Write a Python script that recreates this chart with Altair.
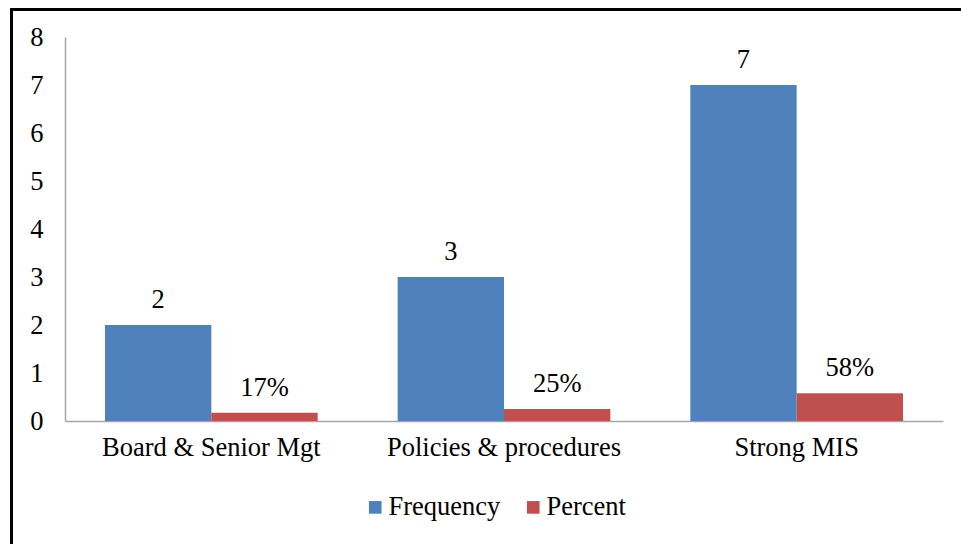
import altair as alt
import pandas as pd

categories = ["Board & Senior Mgt", "Policies & procedures", "Strong MIS"]
frequency = [2, 3, 7]
percent = [0.17, 0.25, 0.58]
freq_labels = ["2", "3", "7"]
pct_labels = ["17%", "25%", "58%"]
series = ["Frequency", "Percent"]
colors = ["#4F81BD", "#C0504D"]

rows = []
for c, f, fl in zip(categories, frequency, freq_labels):
    rows.append({"category": c, "series": "Frequency", "value": f, "label": fl})
for c, p, pl in zip(categories, percent, pct_labels):
    rows.append({"category": c, "series": "Percent", "value": p, "label": pl})
df = pd.DataFrame(rows)

FONT = "Liberation Serif"
FS = 26.5
W, H = 878, 384
LEFT, TOP = 65, 37

x_enc = alt.X("category:N", sort=categories, title=None,
              scale=alt.Scale(paddingInner=0, paddingOuter=0),
              axis=alt.Axis(labelAngle=0, ticks=False, labelPadding=13, labelLimit=400,
                            labelFontSize=FS, labelFont=FONT, labelColor="#000000",
                            domainColor="#A6A6A6", domainWidth=1.5))
xoff_enc = alt.XOffset("series:N", sort=series,
                       scale=alt.Scale(paddingInner=0, paddingOuter=0.376))
y_enc = alt.Y("value:Q", title=None,
              scale=alt.Scale(domain=[0, 8], nice=False),
              axis=alt.Axis(values=list(range(9)), grid=False, ticks=False,
                            labelPadding=22, labelFontSize=FS, labelFont=FONT,
                            labelColor="#000000", domainColor="#A6A6A6",
                            domainWidth=1.5))

bars = alt.Chart(df).mark_bar().encode(
    x=x_enc,
    xOffset=xoff_enc,
    y=y_enc,
    color=alt.Color("series:N", sort=series,
                    scale=alt.Scale(domain=series, range=colors),
                    legend=alt.Legend(title=None, orient="none", direction="horizontal",
                                      legendX=297, legendY=457,
                                      symbolType="square", symbolSize=160,
                                      symbolStrokeWidth=0,
                                      labelFont=FONT, labelFontSize=FS,
                                      labelColor="#000000", columnPadding=19,
                                      labelOffset=0)),
)

labels = alt.Chart(df).mark_text(
    baseline="bottom", dy=-11, font=FONT, fontSize=FS, color="#000000"
).encode(
    x=alt.X("category:N", sort=categories),
    xOffset=alt.XOffset("series:N", sort=series),
    y=alt.Y("value:Q"),
    text="label:N",
)

# Chart frame: left and top border lines
frame_top = alt.Chart(df).mark_rule(color="#000000", strokeWidth=2.5).encode(
    x=alt.value(-54), x2=alt.value(961 - LEFT + 10), y=alt.value(-27.5)
)
frame_left = alt.Chart(df).mark_rule(color="#000000", strokeWidth=2.5).encode(
    x=alt.value(-53.5), y=alt.value(-28.5), y2=alt.value(544 - TOP + 10)
)

chart = alt.layer(bars, labels, frame_top, frame_left).properties(
    width=W, height=H,
    autosize=alt.AutoSizeParams(type="none"),
    padding={"left": LEFT, "top": TOP, "right": 961 - LEFT - W, "bottom": 544 - TOP - H},
).configure(
    background="#FFFFFF", font=FONT
).configure_view(stroke=None, strokeWidth=0)

chart.save("out.html", embed_options={"renderer": "svg", "actions": False})
